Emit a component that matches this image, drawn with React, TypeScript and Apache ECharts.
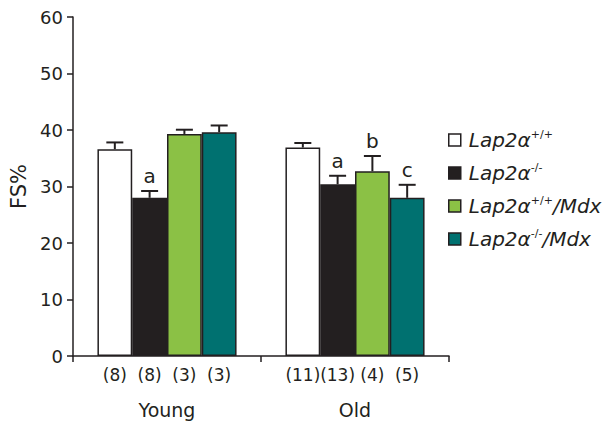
import React, { useEffect, useRef } from "react";
import * as echarts from "echarts";

const categories = ["Young", "Old"];
const seriesNames = ["Lap2α+/+", "Lap2α-/-", "Lap2α+/+/Mdx", "Lap2α-/-/Mdx"];
const legendRich = [
  "{f|Lap2α}{s|+/+}",
  "{f|Lap2α}{s|-/-}",
  "{f|Lap2α}{s|+/+}{i|/Mdx}",
  "{f|Lap2α}{s|-/-}{i|/Mdx}",
];
const colors = ["#ffffff", "#231f20", "#8bc145", "#007170"];

const wtMean = [36.6, 36.9];
const koMean = [28.0, 30.4];
const wtMdxMean = [39.3, 32.7];
const koMdxMean = [39.6, 28.0];

const wtSem = [1.2, 0.8];
const koSem = [1.2, 1.5];
const wtMdxSem = [0.75, 2.7];
const koMdxSem = [1.2, 2.3];

const wtN = [8, 11];
const koN = [8, 13];
const wtMdxN = [3, 4];
const koMdxN = [3, 5];

const wtLetters = ["", ""];
const koLetters = ["a", "a"];
const wtMdxLetters = ["", "b"];
const koMdxLetters = ["", "c"];

const yTicks = [0, 10, 20, 30, 40, 50, 60];

const means = [wtMean, koMean, wtMdxMean, koMdxMean];
const sems = [wtSem, koSem, wtMdxSem, koMdxSem];
const ns = [wtN, koN, wtMdxN, koMdxN];
const letters = [wtLetters, koLetters, wtMdxLetters, koMdxLetters];

const INK = "#231f20";
const FONT = "'DejaVu Sans', sans-serif";
const GAP = 0.26;

export default function App() {
  const ref = useRef<HTMLDivElement>(null);
  useEffect(() => {
    if (!ref.current) return;
    const chart = echarts.init(ref.current, undefined, { renderer: "svg" });

    const errData: any[] = [];
    const errLetters: string[] = [];
    means.forEach((m, k) => {
      m.forEach((v, c) => {
        errData.push([c, k, v, sems[k][c]]);
        errLetters.push(letters[k][c]);
      });
    });

    const barSeries = seriesNames.map((name, k) => ({
      name,
      type: "bar",
      data: means[k],
      barGap: "0%",
      barCategoryGap: GAP * 100 + "%",
      itemStyle: { color: colors[k], borderColor: INK, borderWidth: 1.5 },
      label: {
        show: true,
        position: "bottom",
        distance: 10,
        fontSize: 17,
        fontFamily: FONT,
        color: INK,
        formatter: (p: any) => "(" + ns[k][p.dataIndex] + ")",
      },
      z: 2,
    }));

    const errSeries = {
      type: "custom",
      name: "err",
      data: errData,
      encode: { x: 0, y: 2 },
      z: 3,
      silent: true,
      renderItem: (params: any, api: any) => {
        const c = api.value(0);
        const k = api.value(1);
        const mean = api.value(2);
        const sem = api.value(3);
        const base = api.coord([c, mean]);
        const top = api.coord([c, mean + sem]);
        const band = api.size([1, 0])[0];
        const bw = (band * (1 - GAP)) / 4;
        const x = base[0] + (k - 1.5) * bw;
        const letter = errLetters[params.dataIndex];
        const children: any[] = [
          {
            type: "line",
            shape: { x1: x, y1: base[1], x2: x, y2: top[1] },
            style: { stroke: INK, lineWidth: 2 },
          },
          {
            type: "line",
            shape: { x1: x - 8.5, y1: top[1], x2: x + 8.5, y2: top[1] },
            style: { stroke: INK, lineWidth: 2 },
          },
        ];
        if (letter) {
          children.push({
            type: "text",
            x,
            y: top[1] - 15,
            style: {
              text: letter,
              fontSize: 20,
              fontFamily: FONT,
              fill: INK,
              align: "center",
              verticalAlign: "middle",
            },
          });
        }
        return { type: "group", children };
      },
    };

    chart.setOption({
      animation: false,
      backgroundColor: "#ffffff",
      grid: { left: 73, right: 164, top: 17, bottom: 76 },
      legend: {
        data: seriesNames,
        orient: "vertical",
        left: 448,
        top: 129,
        padding: 0,
        itemWidth: 12,
        itemHeight: 12,
        itemGap: 12,
        icon: "rect",
        itemStyle: { borderColor: INK, borderWidth: 1.5 },
        formatter: (name: string) => legendRich[seriesNames.indexOf(name)],
        textStyle: {
          color: INK,
          rich: {
            f: {
              fontFamily: FONT,
              fontStyle: "italic",
              fontSize: 20,
              lineHeight: 22,
              color: INK,
              padding: [0, 0, 0, 3],
            },
            i: {
              fontFamily: FONT,
              fontStyle: "italic",
              fontSize: 20,
              lineHeight: 22,
              color: INK,
            },
            s: {
              fontFamily: FONT,
              fontSize: 11,
              lineHeight: 12,
              verticalAlign: "top",
              color: INK,
            },
          },
        },
      },
      xAxis: {
        type: "category",
        data: categories,
        axisLine: { lineStyle: { color: INK, width: 1.5 } },
        axisTick: { show: true, length: 6, interval: 0, lineStyle: { color: INK, width: 1.5 } },
        axisLabel: { fontSize: 19, fontFamily: FONT, color: INK, margin: 44 },
      },
      yAxis: {
        type: "value",
        min: yTicks[0],
        max: yTicks[yTicks.length - 1],
        interval: 10,
        name: "FS%",
        nameLocation: "middle",
        nameRotate: 90,
        nameGap: 44,
        nameTextStyle: { fontSize: 21, fontFamily: FONT, color: INK },
        axisLine: { show: true, lineStyle: { color: INK, width: 1.5 } },
        axisTick: { show: true, length: 6, lineStyle: { color: INK, width: 1.5 } },
        axisLabel: { fontSize: 18, fontFamily: FONT, color: INK, margin: 10 },
        splitLine: { show: false },
      },
      series: [...barSeries, errSeries],
    });
    return () => chart.dispose();
  }, []);
  return (
    <div
      ref={ref}
      style={{ position: "fixed", left: 0, top: 0, width: 613, height: 432, background: "#fff" }}
    />
  );
}
